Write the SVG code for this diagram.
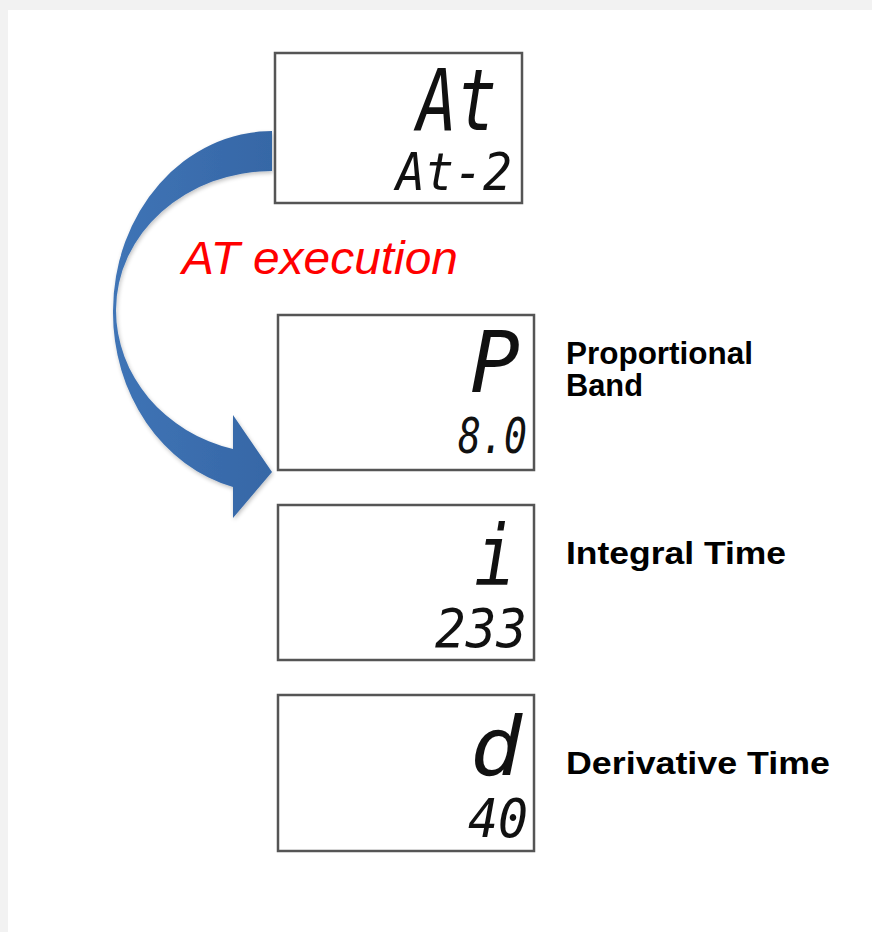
<svg xmlns="http://www.w3.org/2000/svg" width="872" height="932" viewBox="0 0 872 932">
  <defs>
    <style>
      .box { fill: #ffffff; stroke: #555555; stroke-width: 2.5; }
      .seg { font-family: "DejaVu Sans Mono", "Liberation Mono", monospace; font-style: oblique; font-weight: 300; fill: #111111; }
      .lbl { font-family: "Liberation Sans", Arial, sans-serif; font-weight: bold; font-size: 31px; fill: #000000; }
      .red { font-family: "Liberation Sans", Arial, sans-serif; font-style: italic; font-size: 46px; fill: #ff0000; }
    </style>
    <linearGradient id="arrowGrad" x1="0" y1="0" x2="1" y2="0">
      <stop offset="0" stop-color="#3f74b6"/>
      <stop offset="1" stop-color="#3667a6"/>
    </linearGradient>
    <filter id="soft" x="-10%" y="-10%" width="120%" height="120%">
      <feGaussianBlur in="SourceAlpha" stdDeviation="2"/>
      <feOffset dx="1" dy="2" result="b"/>
      <feComponentTransfer><feFuncA type="linear" slope="0.25"/></feComponentTransfer>
      <feMerge><feMergeNode/><feMergeNode in="SourceGraphic"/></feMerge>
    </filter>
  </defs>

  <rect x="0" y="0" width="872" height="932" fill="#f2f2f2"/>
  <rect x="8" y="10" width="864" height="922" fill="#ffffff"/>

  <g id="connectors">
    <path id="at-arrow" filter="url(#soft)" fill="url(#arrowGrad)"
          d="M 272,131 A 159,180 0 0 0 113,311 A 159,180 0 0 0 233,487 L 233,518 L 272,472 L 233,415 L 233,449 A 156,143.6 0 0 1 116,310 A 156,139 0 0 1 272,171 Z"/>
    <text class="red" x="182" y="274" textLength="276" lengthAdjust="spacingAndGlyphs">AT execution</text>
  </g>

  <g id="node-at">
    <rect class="box" x="275" y="53" width="247" height="150"/>
    <text class="seg" x="417" y="130" font-size="85" textLength="80" lengthAdjust="spacingAndGlyphs">At</text>
    <text class="seg" x="396" y="190" font-size="51" textLength="116" lengthAdjust="spacingAndGlyphs">At-2</text>
  </g>

  <g id="node-p">
    <rect class="box" x="278" y="315" width="256" height="155"/>
    <text class="seg" x="470" y="392" font-size="85" textLength="50" lengthAdjust="spacingAndGlyphs">P</text>
    <text class="seg" x="458" y="453" font-size="50" textLength="69" lengthAdjust="spacingAndGlyphs">8.0</text>
    <text class="lbl" x="566" y="364" textLength="187" lengthAdjust="spacingAndGlyphs">Proportional</text>
    <text class="lbl" x="566" y="396" textLength="77" lengthAdjust="spacingAndGlyphs">Band</text>
  </g>

  <g id="node-i">
    <rect class="box" x="278" y="505" width="256" height="155"/>
    <text class="seg" x="474" y="585" font-size="84" textLength="42" lengthAdjust="spacingAndGlyphs">i</text>
    <text class="seg" x="435" y="647" font-size="54" textLength="92" lengthAdjust="spacingAndGlyphs">233</text>
    <text class="lbl" x="566" y="564" textLength="220" lengthAdjust="spacingAndGlyphs">Integral Time</text>
  </g>

  <g id="node-d">
    <rect class="box" x="278" y="695" width="256" height="156"/>
    <text class="seg" x="470" y="775" font-size="82" textLength="52" lengthAdjust="spacingAndGlyphs">d</text>
    <text class="seg" x="468" y="837" font-size="53" textLength="60" lengthAdjust="spacingAndGlyphs">40</text>
    <text class="lbl" x="566" y="774" textLength="264" lengthAdjust="spacingAndGlyphs">Derivative Time</text>
  </g>
</svg>
